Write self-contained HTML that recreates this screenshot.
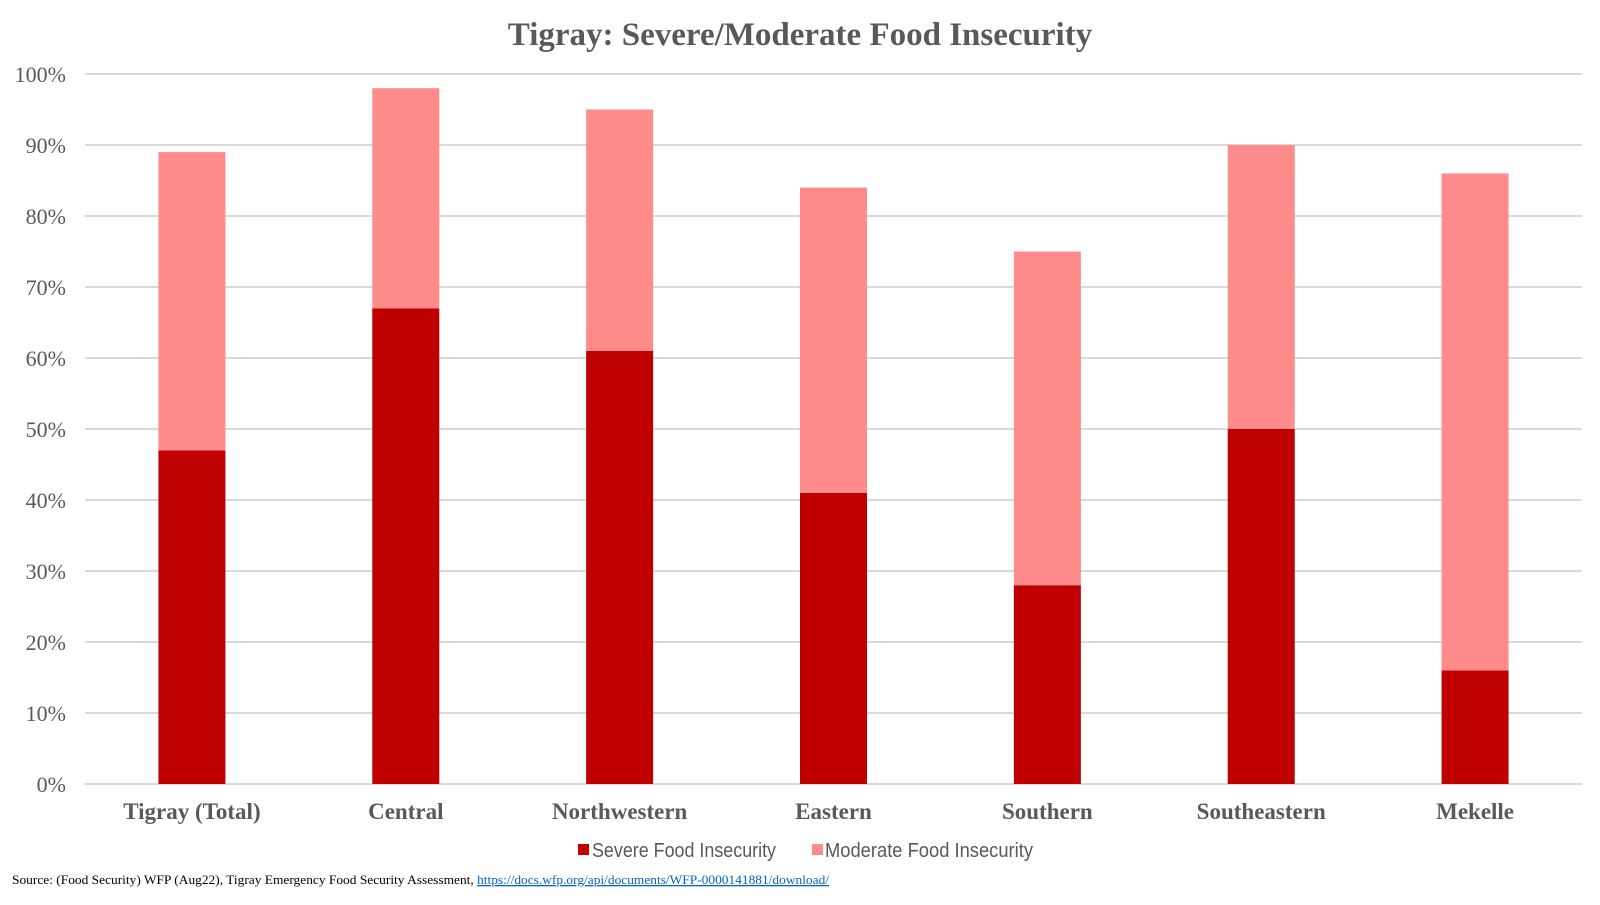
<!DOCTYPE html>
<html><head><meta charset="utf-8"><style>
body{margin:0;background:#fff;width:1600px;height:900px;overflow:hidden}
svg text{font-family:"Liberation Serif",serif}
</style></head><body>
<svg width="1600" height="900">
<text x="800" y="45" text-anchor="middle" font-size="33" font-weight="bold" fill="#595959">Tigray: Severe/Moderate Food Insecurity</text>
<g id="grid"></g><g id="bars"></g><g id="labels"></g>
<g>
<rect x="578" y="844" width="11" height="11" fill="#c00000"/>
<text x="592" y="857" font-size="20" fill="#595959" textLength="184" lengthAdjust="spacingAndGlyphs" style="font-family:'Liberation Sans',sans-serif">Severe Food Insecurity</text>
<rect x="812" y="844" width="11" height="11" fill="#ff8b8b"/>
<text x="825" y="857" font-size="20" fill="#595959" textLength="208" lengthAdjust="spacingAndGlyphs" style="font-family:'Liberation Sans',sans-serif">Moderate Food Insecurity</text>
</g>
<text x="12" y="884" font-size="13" fill="#000" textLength="817" lengthAdjust="spacingAndGlyphs">Source: (Food Security) WFP (Aug22), Tigray Emergency Food Security Assessment, <tspan fill="#0563c1" text-decoration="underline">https://docs.wfp.org/api/documents/WFP-0000141881/download/</tspan></text>
</svg>
<script>
const categories=["Tigray (Total)","Central","Northwestern","Eastern","Southern","Southeastern","Mekelle"];
const severe=[47,67,61,41,28,50,16];
const moderate=[42,31,34,43,47,40,70];
const ticks=[0,10,20,30,40,50,60,70,80,90,100];
const NS="http://www.w3.org/2000/svg";
const L=85,R=1582,T=74,B=784,bw=67;
const y=v=>B-(B-T)*v/100;
const xc=i=>L+(R-L)/categories.length*(i+0.5);
function mk(tag,at,p){const e=document.createElementNS(NS,tag);for(const k in at)e.setAttribute(k,at[k]);p.appendChild(e);return e;}
const g=document.getElementById('grid'),b=document.getElementById('bars'),lb=document.getElementById('labels');
ticks.forEach(t=>{
 const ln=mk('line',{x1:L,x2:R,y1:y(t),y2:y(t),stroke:'#d9d9d9','stroke-width':2},g);
 
 
 const tx=mk('text',{x:66,y:y(t)+8,'text-anchor':'end','font-size':22,fill:'#595959'},g);
 tx.textContent=t+'%';
 
 
});
categories.forEach((c,i)=>{
 const x=xc(i)-bw/2;
 const r1=mk('rect',{x:x,y:y(severe[i]),width:bw,height:y(0)-y(severe[i]),fill:'#c00000'},b);
 
 
 const top=severe[i]+moderate[i];
 const r2=mk('rect',{x:x,y:y(top),width:bw,height:y(severe[i])-y(top),fill:'#ff8b8b'},b);
 
 
 const t=mk('text',{x:xc(i),y:819,'text-anchor':'middle','font-size':23,'font-weight':'bold',fill:'#595959'},lb);
 t.textContent=c;
 
 
});
</script>
</body></html>
